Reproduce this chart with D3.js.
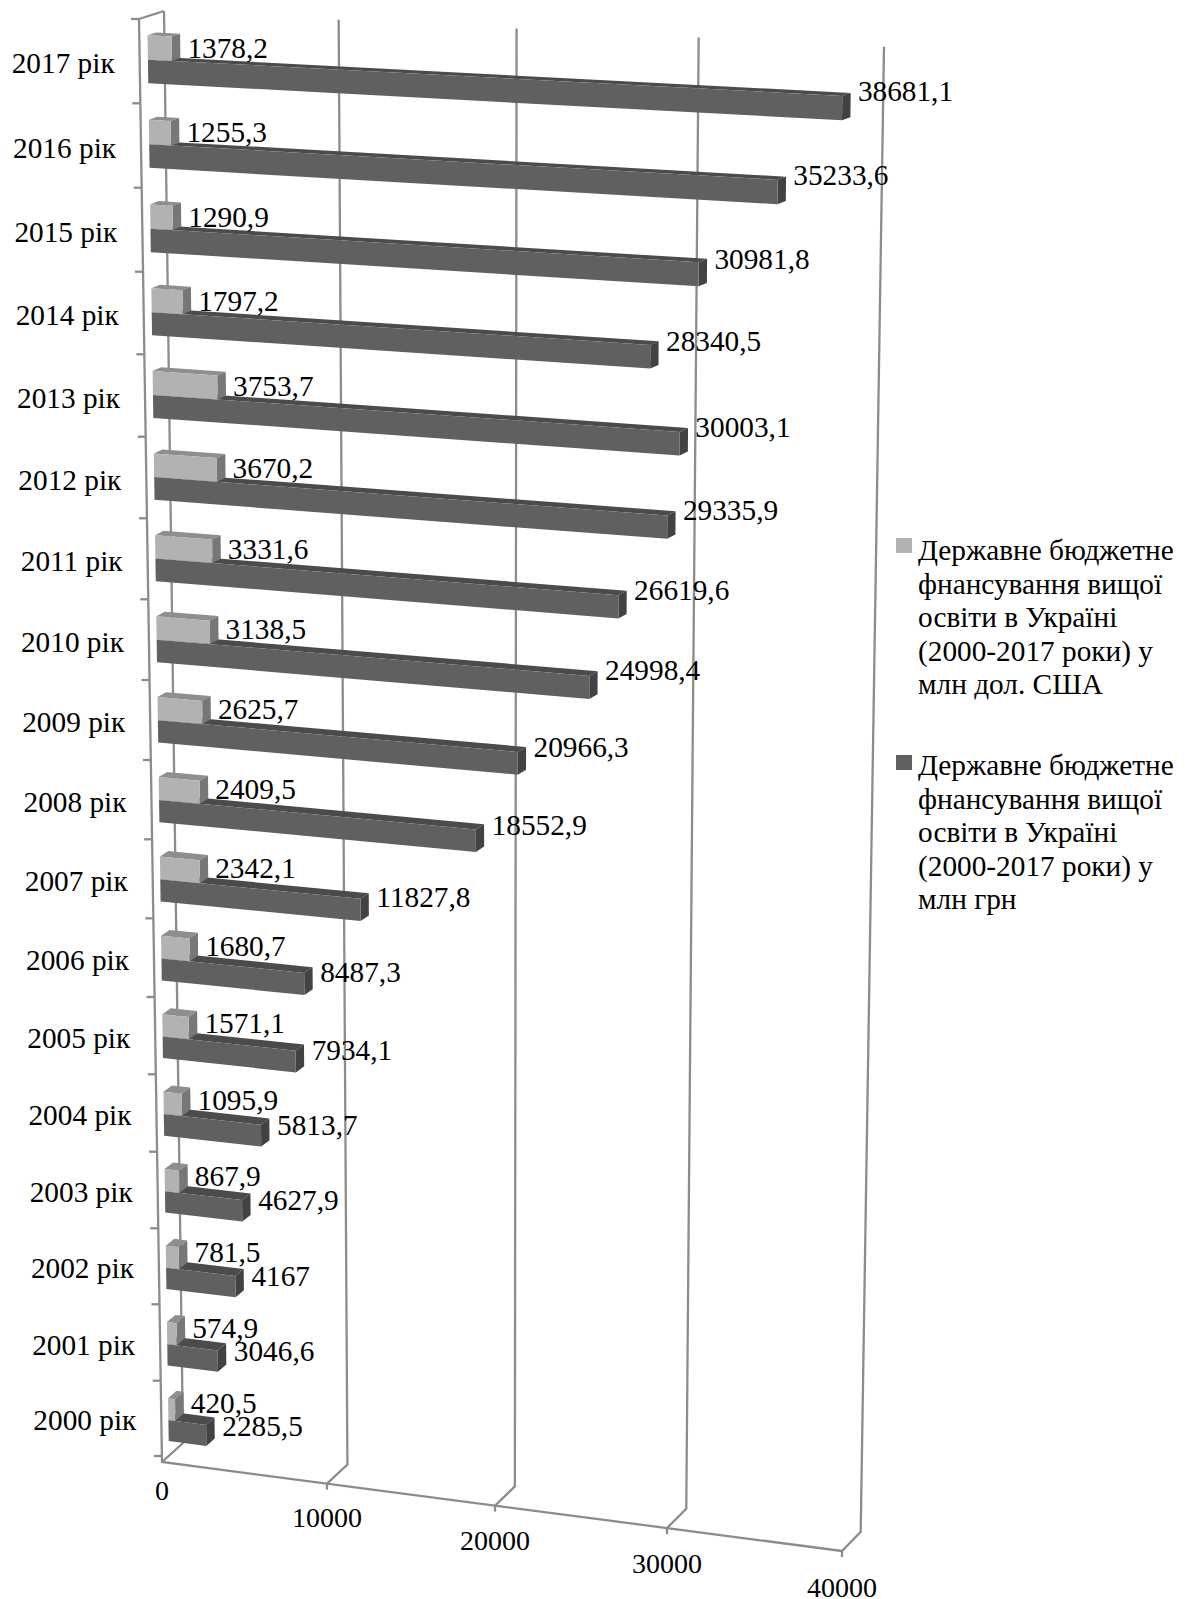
<!DOCTYPE html>
<html>
<head>
<meta charset="utf-8">
<script src="https://cdnjs.cloudflare.com/ajax/libs/d3/7.8.5/d3.min.js"></script>
<style>
    html, body { margin: 0; padding: 0; background: #fff; }
    svg { display: block; }
    text { font-family: "Liberation Serif", serif; fill: #000; }
</style>
</head>
<body>
<svg></svg>
<script>
const years = ["2000 рік", "2001 рік", "2002 рік", "2003 рік", "2004 рік", "2005 рік", "2006 рік", "2007 рік", "2008 рік",
    "2009 рік", "2010 рік", "2011 рік", "2012 рік", "2013 рік", "2014 рік", "2015 рік", "2016 рік", "2017 рік"];
const usd = [420.5, 574.9, 781.5, 867.9, 1095.9, 1571.1, 1680.7, 2342.1, 2409.5,
    2625.7, 3138.5, 3331.6, 3670.2, 3753.7, 1797.2, 1290.9, 1255.3, 1378.2];
const uah = [2285.5, 3046.6, 4167, 4627.9, 5813.7, 7934.1, 8487.3, 11827.8, 18552.9,
    20966.3, 24998.4, 26619.6, 29335.9, 30003.1, 28340.5, 30981.8, 35233.6, 38681.1];
const valueTicks = [0, 10000, 20000, 30000, 40000];
const legendUsd = ["Державне бюджетне", "фнансування вищої", "освіти в Україні", "(2000-2017 роки) у", "млн дол. США"];
const legendUah = ["Державне бюджетне", "фнансування вищої", "освіти в Україні", "(2000-2017 роки) у", "млн грн"];

const width = 1185;
const height = 1599;
const fontSize = 29.3;
const axisColor = "#8c8c8c";

// corners of the 3d box, as they land on the page
const frontTL = [139, 19], frontTR = [859, 55], frontBL = [162, 1462], frontBR = [842, 1551];
const backTL = [164, 11], backTR = [884, 46.7], backBL = [183, 1443], backBR = [860.7, 1531.7];

// perspective makes the steps uneven, so both scales are piecewise
const xFrac = d3.scaleLinear().domain(valueTicks).range([0, 0.2426, 0.4897, 0.7426, 1]);
const tickY = [19, 103.3, 187.7, 271.7, 354.3, 436.7, 518.3, 599.3, 680, 760,
    839.3, 918.3, 997, 1074.3, 1151.7, 1228.3, 1304.3, 1380.7, 1456, 1462];
const floorSlot = 18.08;
const slotFrac = d3.scaleLinear()
    .domain([...d3.range(19), floorSlot])
    .range(tickY.map(y => (y - 19) / (1462 - 19)));

const lerp = (a, b, f) => [a[0] + (b[0] - a[0]) * f, a[1] + (b[1] - a[1]) * f];

// value, slot (0 at top, 18 at the bottom), depth (0 front, 1 back)
function project(v, slot, d) {
    const u = xFrac(v);
    const t = slotFrac(slot);
    const front = lerp(lerp(frontTL, frontTR, u), lerp(frontBL, frontBR, u), t);
    const back = lerp(lerp(backTL, backTR, u), lerp(backBL, backBR, u), t);
    return lerp(front, back, d);
}

const svg = d3.select("svg").attr("width", width).attr("height", height).attr("viewBox", `0 0 ${width} ${height}`);
const line = d3.line();

const grid = svg.append("g").attr("fill", "none").attr("stroke", axisColor).attr("stroke-width", 2.3);

valueTicks.forEach(v => {
    grid.append("path").attr("d", line([project(v, 0, 1), project(v, floorSlot, 1), project(v, floorSlot, 0)]));
    if (v > 0) {
        const p = project(v, floorSlot, 0);
        grid.append("path").attr("d", line([p, [p[0], p[1] + 6]]));
    }
});
grid.append("path").attr("d", line([project(0, 0, 1), project(0, 0, 0), project(0, floorSlot, 0), project(40000, floorSlot, 0)]));
d3.range(0, 19).forEach(s => {
    const p = project(0, s, 0);
    grid.append("path").attr("d", line([[p[0] - 8, p[1]], p]));
});

const depthNear = 0.33;
const colors = {
    usd: {front: "#b2b2b2", top: "#8e8e8e", side: "#777777"},
    uah: {front: "#606060", top: "#4b4b4b", side: "#424242"}
};

function drawBar(g, v, s0, s1, far, c) {
    const face = (pts, fill) => g.append("path").attr("d", line(pts) + "Z").attr("fill", fill);
    face([project(0, s0, far), project(v, s0, far), project(v, s0, depthNear), project(0, s0, depthNear)], c.top);
    face([project(v, s0, depthNear), project(v, s0, far), project(v, s1, far), project(v, s1, depthNear)], c.side);
    face([project(0, s0, depthNear), project(v, s0, depthNear), project(v, s1, depthNear), project(0, s1, depthNear)], c.front);
}

const bars = svg.append("g");
const labels = svg.append("g").attr("font-size", fontSize);
const fmt = v => String(v).replace(".", ",");

// top slot first so lower bars sit over the ones above
d3.range(years.length - 1, -1, -1).forEach(i => {
    const slot = years.length - 1 - i;
    const tilt = slot / 17;
    const shift = 0.09 * tilt; // bars drift down inside their band towards the bottom
    const far = 0.67 + 0.06 * tilt;
    const top = slot + 0.225 + shift;
    const mid = slot + 0.515 + shift;
    const bottom = slot + 0.795 + shift;

    drawBar(bars, uah[i], mid, bottom, far, colors.uah);
    drawBar(bars, usd[i], top, mid, far, colors.usd);

    const a = project(usd[i], mid, far);
    labels.append("text").text(fmt(usd[i]))
        .attr("x", a[0] + 7)
        .attr("y", a[1]);
    const b = project(uah[i], bottom, far);
    const bulge = 3 * (1 - Math.abs(2 * tilt - 1)); // middle rows sit a little higher
    labels.append("text").text(fmt(uah[i]))
        .attr("x", b[0] + 7.5)
        .attr("y", b[1] - 17 + 17 * (1 - uah[i] / 40000) * 0.9 - bulge);

    const c = project(0, slot + 0.5, 0);
    labels.append("text").text(years[i])
        .attr("x", c[0] - 25)
        .attr("y", c[1] + 12)
        .attr("text-anchor", "end");
});

valueTicks.forEach(v => {
    const p = project(v, floorSlot, 0);
    labels.append("text").text(v)
        .attr("font-size", 28)
        .attr("x", p[0])
        .attr("y", p[1] + 38 + (v > 0 ? 4 : 0) + 4 * v / 40000)
        .attr("text-anchor", "middle");
});

const legendItems = [
    {lines: legendUsd, y: 538, textY: 560, fill: colors.usd.front},
    {lines: legendUah, y: 755, textY: 775, fill: colors.uah.front}
];
legendItems.forEach(item => {
    const g = svg.append("g");
    g.append("rect").attr("x", 896).attr("y", item.y).attr("width", 16).attr("height", 15).attr("fill", item.fill);
    item.lines.forEach((t, k) => {
        g.append("text").text(t).attr("font-size", fontSize)
            .attr("x", 918)
            .attr("y", item.textY + k * 33.5);
    });
});
</script>
</body>
</html>
